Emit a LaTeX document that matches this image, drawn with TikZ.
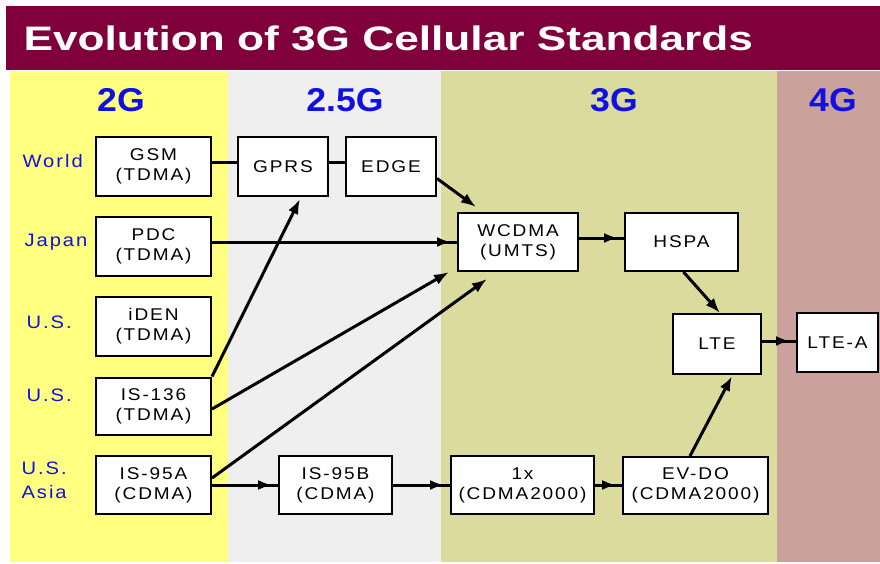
\documentclass[tikz,border=0pt]{standalone}
\usepackage{fontspec}
\setmainfont{Liberation Sans}
\newfontfamily\boxfont[LetterSpace=11, FakeStretch=1.12]{Liberation Sans}
\newfontfamily\titlefont[FakeStretch=1.3]{Liberation Sans Bold}
\newfontfamily\genfont[FakeStretch=1.08]{Liberation Sans Bold}
\usetikzlibrary{arrows.meta,decorations.markings}

\definecolor{bandred}{RGB}{128,0,60}
\definecolor{col2g}{RGB}{255,255,128}
\definecolor{col25g}{RGB}{239,239,239}
\definecolor{col3g}{RGB}{219,219,158}
\definecolor{col4g}{RGB}{203,161,155}
\definecolor{gentext}{RGB}{16,16,230}

\tikzset{
  stdbox/.style={draw=black, line width=2pt, fill=white, inner sep=0pt,
    align=center, font=\boxfont\fontsize{17}{20}\selectfont},
  sz/.style 2 args={minimum width=#1pt, minimum height=#2pt},
  region/.style={anchor=west, text=gentext, font=\boxfont\fontsize{18}{24}\selectfont, align=left},
  gen/.style={text=gentext, font=\genfont\fontsize{33}{36}\selectfont},
  link/.style={line width=3pt},
  arr/.style={line width=3pt, -{Latex[length=15pt,width=11pt]}},
  midarr/.style={line width=3pt, postaction={decorate},
    decoration={markings, mark=at position -6pt with {\arrow{Latex[length=14pt,width=10pt]}}}},
}

\begin{document}
\begin{tikzpicture}[x=1pt, y=-1pt]
  \useasboundingbox (0,0) rectangle (880,564);
  % title band
  \fill[bandred] (6,6) rectangle (880,70);
  \node[anchor=west, text=white, font=\titlefont\fontsize{34}{36}\selectfont]
    (title) at (20,38) {Evolution of 3G Cellular Standards};
  % generation columns
  \fill[col2g]  (10,71)  rectangle (228,562);
  \fill[col25g] (228,71) rectangle (441,562);
  \fill[col3g]  (441,71) rectangle (777,562);
  \fill[col4g]  (777,71) rectangle (880,562);
  \node[gen] (g2)  at (121,100) {2G};
  \node[gen] (g25) at (345,100) {2.5G};
  \node[gen] (g3)  at (614,100) {3G};
  \node[gen] (g4)  at (833,100) {4G};
  % regions
  \node[region] (rworld) at (19,161) {World};
  \node[region] (rjapan) at (21,242) {Japan};
  \node[region] (rus1)   at (23,322) {U.S.};
  \node[region] (rus2)   at (23,395) {U.S.};
  \node[region] (rusasia) at (18,480) {U.S.\\Asia};
  % standards
  \node[stdbox, sz={115}{59}] (gsm)   at (153.5,166.5) {GSM\\(TDMA)};
  \node[stdbox, sz={90}{59}]  (gprs)  at (283,166.5)   {GPRS};
  \node[stdbox, sz={90}{59}]  (edge)  at (391,166.5)   {EDGE};
  \node[stdbox, sz={115}{59}] (pdc)   at (153.5,246.5) {PDC\\(TDMA)};
  \node[stdbox, sz={115}{59}] (iden)  at (153.5,326.5) {iDEN\\(TDMA)};
  \node[stdbox, sz={115}{57}] (is136) at (153.5,406)   {IS-136\\(TDMA)};
  \node[stdbox, sz={115}{58}] (is95a) at (153.5,485)   {IS-95A\\(CDMA)};
  \node[stdbox, sz={113}{58}] (is95b) at (335.5,485)   {IS-95B\\(CDMA)};
  \node[stdbox, sz={120}{58}] (wcdma) at (518,242)     {WCDMA\\(UMTS)};
  \node[stdbox, sz={113}{58}] (hspa)  at (681.5,242)   {HSPA};
  \node[stdbox, sz={88}{60}]  (lte)   at (717,344)     {LTE};
  \node[stdbox, sz={81}{59}]  (ltea)  at (837.5,342.5) {LTE-A};
  \node[stdbox, sz={143}{58}] (onex)  at (522.5,485)   {1x\\(CDMA2000)};
  \node[stdbox, sz={145}{57}] (evdo)  at (695.5,485.5) {EV-DO\\(CDMA2000)};
  % evolution paths
  \draw[link] ([yshift=4pt]gsm.east) -- ([yshift=4pt]gprs.west);
  \draw[link] ([yshift=4pt]gprs.east) -- ([yshift=4pt]edge.west);
  \draw[arr] ([yshift=-12pt]edge.east) -- ([xshift=19pt,yshift=5pt]wcdma.north west);
  \draw[midarr] (pdc.east |- wcdma.west) -- (wcdma.west);
  \draw[arr] (is136.north east) -- ([xshift=17pt,yshift=-2pt]gprs.south);
  \draw[arr] ([yshift=-3pt]is136.east) -- ([xshift=-8pt]wcdma.south west);
  \draw[arr] ([yshift=7pt]is95a.east) -- ([xshift=30pt,yshift=-7pt]wcdma.south west);
  \draw[midarr] (is95a.east) -- (is95b.west);
  \draw[midarr] (is95b.east) -- (onex.west);
  \draw[midarr] (onex.east) -- (onex.east -| evdo.west);
  \draw[arr] ([xshift=-5.5pt]evdo.north) -- ([xshift=15pt,yshift=-1pt]lte.south);
  \draw[midarr] ([yshift=4pt]wcdma.east) -- ([yshift=4pt]hspa.west);
  \draw[arr] ([xshift=2pt]hspa.south) -- ([xshift=3pt]lte.north);
  \draw[midarr] ([yshift=3pt]lte.east) -- ([yshift=3pt]lte.east -| ltea.west);
\end{tikzpicture}
\end{document}
